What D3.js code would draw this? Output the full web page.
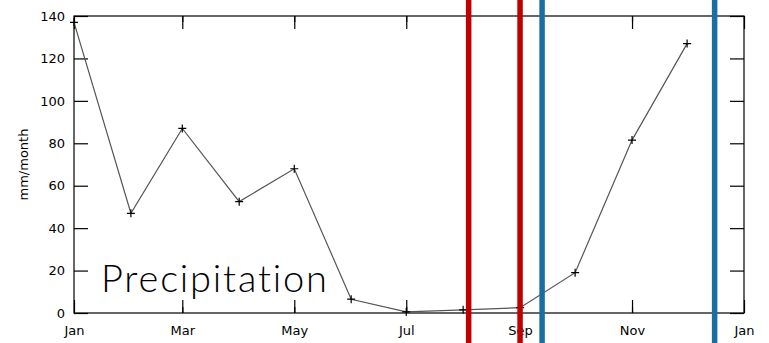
<!DOCTYPE html>
<html>
<head>
<meta charset="utf-8">
<script src="https://cdn.jsdelivr.net/npm/d3@7"></script>
<style>
  body { margin: 0; background: #fff; }
  svg { display: block; font-family: "DejaVu Sans", sans-serif; }
</style>
</head>
<body>
<svg id="chart" width="769" height="343"></svg>
<script>
// monthly precipitation, one point at the start of each month
const months = ["2001-01-01", "2001-02-01", "2001-03-01", "2001-04-01", "2001-05-01", "2001-06-01",
                "2001-07-01", "2001-08-01", "2001-09-01", "2001-10-01", "2001-11-01", "2001-12-01"];
const precip = [137, 47, 87, 52.5, 68, 6.5, 0.5, 1.5, 2.5, 19, 81.5, 127];
const yTicks = [0, 20, 40, 60, 80, 100, 120, 140];
const redDates = ["2001-08-04", "2001-09-01"];
const blueDates = ["2001-09-13", "2001-12-16"];

const svg = d3.select("#chart");
const W = 769, H = 343;
const m = { left: 74, right: 25, top: 16, bottom: 30 };
const parse = d3.timeParse("%Y-%m-%d");

const x = d3.scaleTime()
    .domain([parse("2001-01-01"), parse("2002-01-01")])
    .range([m.left, W - m.right]);
const y = d3.scaleLinear().domain([0, 140]).range([H - m.bottom, m.top]);

const majorX = d3.timeMonth.every(2).range(parse("2001-01-01"), parse("2002-01-02"));
const minorX = d3.timeMonth.every(2).range(parse("2001-02-01"), parse("2002-01-01"));
const fmt = d3.timeFormat("%b");

// frame
svg.append("rect")
    .attr("x", m.left).attr("y", m.top)
    .attr("width", W - m.right - m.left).attr("height", H - m.bottom - m.top)
    .attr("fill", "none").attr("stroke", "#000").attr("stroke-width", 1.2);

// inward ticks on all four sides
svg.append("g").attr("transform", `translate(0,${H - m.bottom})`)
    .call(d3.axisBottom(x).tickValues(majorX).tickSize(-13).tickPadding(13).tickFormat(fmt));
svg.append("g").attr("transform", `translate(0,${H - m.bottom})`)
    .call(d3.axisBottom(x).tickValues(minorX).tickSize(-6).tickFormat(""));
svg.append("g").attr("transform", `translate(0,${m.top})`)
    .call(d3.axisTop(x).tickValues(majorX).tickSize(-13).tickFormat(""));
svg.append("g").attr("transform", `translate(0,${m.top})`)
    .call(d3.axisTop(x).tickValues(minorX).tickSize(-6).tickFormat(""));
svg.append("g").attr("transform", `translate(${m.left},0)`)
    .call(d3.axisLeft(y).tickValues(yTicks).tickSize(-14).tickPadding(9));
svg.append("g").attr("transform", `translate(${W - m.right},0)`)
    .call(d3.axisRight(y).tickValues(yTicks).tickSize(-14).tickFormat(""));

svg.selectAll(".domain").remove();
svg.selectAll(".tick line").attr("stroke", "#000").attr("stroke-width", 1.2);
svg.selectAll(".tick text").attr("font-size", 13).attr("fill", "#000")
    .attr("font-family", "DejaVu Sans, sans-serif");

// y label
svg.append("text")
    .attr("transform", `translate(28,${(m.top + H - m.bottom) / 2}) rotate(-90)`)
    .attr("text-anchor", "middle")
    .attr("font-size", 13)
    .text("mm/month");

// big title inside the plot
svg.append("text")
    .attr("x", 101).attr("y", 292)
    .attr("font-family", "Lato, 'Open Sans', sans-serif")
    .attr("font-weight", 300)
    .attr("font-size", 38)
    .attr("letter-spacing", 1.8)
    .attr("fill", "#000")
    .text("Precipitation");

// data line with + markers
const pts = months.map((d, i) => ({ date: parse(d), v: precip[i] }));
svg.append("path")
    .datum(pts)
    .attr("fill", "none").attr("stroke", "#555").attr("stroke-width", 1.2)
    .attr("d", d3.line().x(d => x(d.date)).y(d => y(d.v)));
svg.append("g").selectAll("path.mk")
    .data(pts).join("path")
    .attr("transform", d => `translate(${x(d.date)},${y(d.v)})`)
    .attr("d", "M-4,0H4M0,-4V4")
    .attr("stroke", "#000").attr("stroke-width", 1.2);

// vertical marker lines across the whole picture
const vlines = redDates.map(d => ({ d, c: "#c00000" }))
    .concat(blueDates.map(d => ({ d, c: "#1a6ea2" })));
svg.append("g").selectAll("line")
    .data(vlines).join("line")
    .attr("x1", v => x(parse(v.d))).attr("x2", v => x(parse(v.d)))
    .attr("y1", 0).attr("y2", H)
    .attr("stroke", v => v.c).attr("stroke-width", 5.5);
</script>
</body>
</html>
